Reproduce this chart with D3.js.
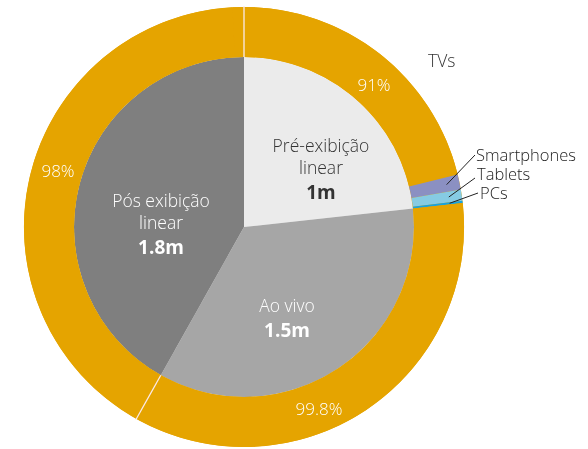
<!DOCTYPE html>
<html>
<head>
<meta charset="utf-8">
<script src="https://cdn.jsdelivr.net/npm/d3@7"></script>
<style>
  html, body { margin: 0; padding: 0; background: #fff; }
  svg { display: block; font-family: "Open Sans", Lato, sans-serif; will-change: transform; }
</style>
</head>
<body>
<svg id="chart" width="588" height="449"></svg>
<script>
// Audience by viewing mode (inner pie) and share by device (outer ring)
const segments = ["Pré-exibição linear", "Ao vivo", "Pós exibição linear"];
const segmentLines = [["Pré-exibição", "linear"], ["Ao vivo"], ["Pós exibição", "linear"]];
const audience = [1, 1.5, 1.8];
const audienceLabels = ["1m", "1.5m", "1.8m"];
const tvShare = [91, 99.8, 98];
const tvShareLabels = ["91%", "99.8%", "98%"];
const devices = ["Smartphones", "Tablets", "PCs"];
const preDeviceShare = [4.8, 3.5, 0.7];

const segmentColors = ["#ebebeb", "#a6a6a6", "#7f7f7f"];
const segmentText = ["#333333", "#ffffff", "#ffffff"];
const tvColor = "#e5a400";
const deviceColors = ["#8b90c2", "#86cbe3", "#17a3e0"];

const svg = d3.select("#chart");
const cx = 244, cy = 227;
const rPie = 170, rOuter = 220;
const g = svg.append("g").attr("transform", `translate(${cx},${cy})`);

const pie = d3.pie().sort(null).value(d => d);
const slices = pie(audience);

const pieArc = d3.arc().innerRadius(0).outerRadius(rPie);
const ringArc = d3.arc().innerRadius(rPie).outerRadius(rOuter);

// Inner pie
g.selectAll("path.seg")
  .data(slices)
  .join("path")
  .attr("class", "seg")
  .attr("d", pieArc)
  .attr("fill", (d, i) => segmentColors[i]);

// Outer ring: TV share of each segment, plus the device breakdown of the first one
const ring = [];
slices.forEach((s, i) => {
  const span = s.endAngle - s.startAngle;
  let a = s.startAngle;
  const tvEnd = a + span * tvShare[i] / 100;
  ring.push({ seg: i, key: "TVs", startAngle: a, endAngle: tvEnd, fill: tvColor });
  a = tvEnd;
  if (i === 0) {
    preDeviceShare.forEach((v, j) => {
      const e = a + span * v / 100;
      ring.push({ seg: i, key: devices[j], startAngle: a, endAngle: e, fill: deviceColors[j] });
      a = e;
    });
  } else {
    ring.push({ seg: i, key: "Outros", startAngle: a, endAngle: s.endAngle, fill: tvColor });
  }
});

// Orange base under the ring so same-coloured neighbours show no seam
g.append("path")
  .attr("d", ringArc({ startAngle: 0, endAngle: 2 * Math.PI }))
  .attr("fill", tvColor);

g.selectAll("path.ring")
  .data(ring)
  .join("path")
  .attr("class", "ring")
  .attr("d", ringArc)
  .attr("fill", d => d.fill);

// Thin white separators where two TV sections meet
const pt = (a, r) => [Math.sin(a) * r, -Math.cos(a) * r];
slices.forEach((s, i) => {
  const prev = ring.filter(d => d.seg === (i + slices.length - 1) % slices.length);
  const last = prev[prev.length - 1];
  if (last.fill !== tvColor) return;
  const p0 = pt(s.startAngle, rPie), p1 = pt(s.startAngle, rOuter + 1);
  g.append("line")
    .attr("x1", p0[0]).attr("y1", p0[1])
    .attr("x2", p1[0]).attr("y2", p1[1])
    .attr("stroke", "#fbeaea")
    .attr("stroke-width", 1.3);
});

// Segment labels inside the pie, one text element per line
const segLabelPos = [[77, -75], [43, 85], [-83, -20]];
slices.forEach((s, i) => {
  const [x, y] = segLabelPos[i];
  segmentLines[i].forEach((line, k) => {
    g.append("text")
      .attr("x", x).attr("y", y + k * 22)
      .attr("text-anchor", "middle")
      .attr("fill", segmentText[i])
      .attr("font-size", 17.5)
      .attr("font-weight", 300)
      .text(line);
  });
  g.append("text")
    .attr("x", x).attr("y", y + (segmentLines[i].length - 1) * 22 + 25)
    .attr("text-anchor", "middle")
    .attr("fill", segmentText[i])
    .attr("font-weight", 700)
    .attr("font-size", 19)
    .text(audienceLabels[i]);
});

// TV share labels on the ring
const tvLabelFrac = [0.554, 0.589, 0.526];
const tvLabelRadius = [193, 196, 195];
ring.filter(d => d.key === "TVs").forEach(d => {
  const a = d.startAngle + (d.endAngle - d.startAngle) * tvLabelFrac[d.seg];
  const [x, y] = pt(a, tvLabelRadius[d.seg]);
  g.append("text")
    .attr("x", Math.round(x)).attr("y", Math.round(y + 6.5))
    .attr("text-anchor", "middle")
    .attr("fill", "#ffffff")
    .attr("font-size", 17)
    .attr("font-weight", 300)
    .text(tvShareLabels[d.seg]);
});

// "TVs" legend text
g.append("text")
  .attr("x", 184).attr("y", -160)
  .attr("fill", "#333333")
  .attr("font-size", 17.5)
  .attr("font-weight", 300)
  .text("TVs");

// Device labels with leader lines
const deviceLabelPos = [[232, -66], [233, -47], [236, -28]];
const lineEnd = [[231, -72], [231, -49], [234, -34]];
ring.filter(d => devices.includes(d.key)).forEach((d, j) => {
  const a = (d.startAngle + d.endAngle) / 2;
  const [x0, y0] = pt(a, 207);
  const [x1, y1] = lineEnd[j];
  g.append("line")
    .attr("x1", x0).attr("y1", y0)
    .attr("x2", x1).attr("y2", y1)
    .attr("stroke", "#222")
    .attr("stroke-width", 1);
  g.append("text")
    .attr("x", deviceLabelPos[j][0]).attr("y", deviceLabelPos[j][1])
    .attr("fill", "#222222")
    .attr("font-size", 16.5)
    .attr("font-weight", 300)
    .text(d.key);
});
</script>
</body>
</html>
